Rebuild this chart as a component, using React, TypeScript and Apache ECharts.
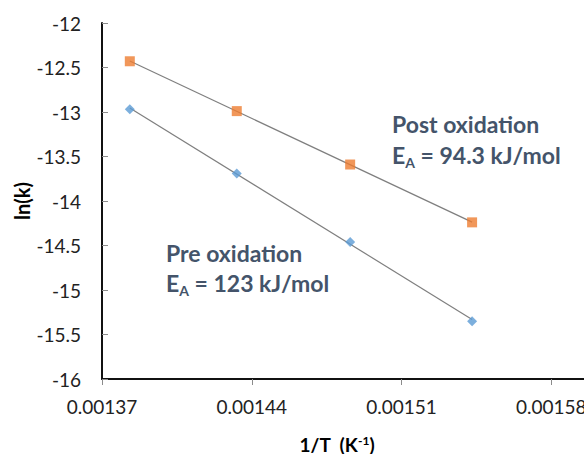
import React, { useEffect, useRef } from "react";
import * as echarts from "echarts";

// 1/T values (K^-1)
const invT = [0.001383, 0.001433, 0.001486, 0.001543];
// ln(k) values
const lnkPost = [-12.43, -12.99, -13.59, -14.24];
const lnkPre = [-12.97, -13.69, -14.46, -15.35];

// axis ticks
const xMin = 0.00137;
const xMax = 0.00165;
const xStep = 0.00007;
const yMin = -16;
const yMax = -12;
const yStep = 0.5;

const postLabel = "Post oxidation";
const postEa = "94.3";
const preLabel = "Pre oxidation";
const preEa = "123";

const FONT = "Lato";
const ANN = "#44546A";

function fitLine(xs: number[], ys: number[]) {
  const n = xs.length;
  const mx = xs.reduce((a, b) => a + b, 0) / n;
  const my = ys.reduce((a, b) => a + b, 0) / n;
  let sxy = 0;
  let sxx = 0;
  for (let i = 0; i < n; i++) {
    sxy += (xs[i] - mx) * (ys[i] - my);
    sxx += (xs[i] - mx) * (xs[i] - mx);
  }
  const b = sxy / sxx;
  const a = my - b * mx;
  const x0 = xs[0];
  const x1 = xs[n - 1];
  return [
    [x0, a + b * x0],
    [x1, a + b * x1],
  ];
}

export default function App() {
  const ref = useRef<HTMLDivElement>(null);
  useEffect(() => {
    document.body.style.margin = "0";
    if (!ref.current) return;
    const chart = echarts.init(ref.current, null, { renderer: "svg" });
    const eaText = (v: string) => ({
      text: `{e|E}{s|A}{e| = ${v} kJ/mol}`,
      rich: {
        e: { fontFamily: FONT, fontWeight: "bold", fontSize: 23, fill: ANN, lineHeight: 28 },
        s: { fontFamily: FONT, fontWeight: "bold", fontSize: 14, fill: ANN, lineHeight: 12, verticalAlign: "bottom" },
      },
      align: "left",
      verticalAlign: "middle",
    });
    chart.setOption({
      animation: false,
      textStyle: { fontFamily: FONT },
      grid: { left: 102, top: 23, width: 599, height: 356, outerBoundsMode: "none", containLabel: false },
      xAxis: {
        type: "value",
        min: xMin,
        max: xMax,
        interval: xStep,
        axisLine: { show: true, lineStyle: { color: "#111", width: 2 } },
        axisTick: { show: true, inside: false, length: 6, lineStyle: { color: "#8c8c8c", width: 1 } },
        splitLine: { show: false },
        axisLabel: {
          fontFamily: FONT,
          fontSize: 19,
          color: "#222",
          margin: 18,
          hideOverlap: false,
          formatter: (v: number) => v.toFixed(5),
        },
      },
      yAxis: {
        type: "value",
        min: yMin,
        max: yMax,
        interval: yStep,
        axisLine: { show: true, lineStyle: { color: "#111", width: 2 } },
        axisTick: { show: true, inside: true, length: 6, lineStyle: { color: "#8c8c8c", width: 1 } },
        splitLine: { show: false },
        axisLabel: { fontFamily: FONT, fontSize: 19, color: "#222", margin: 21 },
      },
      series: [
        {
          type: "line",
          data: fitLine(invT, lnkPost),
          symbol: "none",
          lineStyle: { color: "#7f7f7f", width: 1.2 },
          z: 1,
        },
        {
          type: "line",
          data: fitLine(invT, lnkPre),
          symbol: "none",
          lineStyle: { color: "#7f7f7f", width: 1.2 },
          z: 1,
        },
        {
          type: "scatter",
          data: invT.map((x, i) => [x, lnkPost[i]]),
          symbol: "rect",
          symbolSize: 10,
          itemStyle: { color: "#ED7D31" },
          z: 3,
        },
        {
          type: "scatter",
          data: invT.map((x, i) => [x, lnkPre[i]]),
          symbol: "diamond",
          symbolSize: 10,
          itemStyle: { color: "#5B9BD5" },
          z: 3,
        },
      ],
      graphic: [
        {
          type: "text",
          x: 22,
          y: 201,
          rotation: Math.PI / 2,
          style: {
            text: "ln(k)",
            fontFamily: FONT,
            fontWeight: "bold",
            fontSize: 20,
            fill: "#000",
            align: "center",
            verticalAlign: "middle",
          },
        },
        {
          type: "text",
          x: 337,
          y: 444,
          style: {
            text: "{a|1/T  (K}{s|-1}{a|)}",
            rich: {
              a: { fontFamily: FONT, fontWeight: "bold", fontSize: 19, fill: "#000", lineHeight: 20 },
              s: { fontFamily: FONT, fontWeight: "bold", fontSize: 12, fill: "#000", lineHeight: 10, verticalAlign: "top" },
            },
            align: "center",
            verticalAlign: "middle",
          },
        },
        {
          type: "text",
          x: 392,
          y: 124,
          style: {
            text: postLabel,
            fontFamily: FONT,
            fontWeight: "bold",
            fontSize: 23,
            fill: ANN,
            align: "left",
            verticalAlign: "middle",
          },
        },
        { type: "text", x: 392, y: 155, style: eaText(postEa) },
        {
          type: "text",
          x: 166,
          y: 253,
          style: {
            text: preLabel,
            fontFamily: FONT,
            fontWeight: "bold",
            fontSize: 23,
            fill: ANN,
            align: "left",
            verticalAlign: "middle",
          },
        },
        { type: "text", x: 166, y: 283, style: eaText(preEa) },
      ],
    });
    return () => chart.dispose();
  }, []);
  return <div ref={ref} style={{ width: 584, height: 454 }} />;
}
